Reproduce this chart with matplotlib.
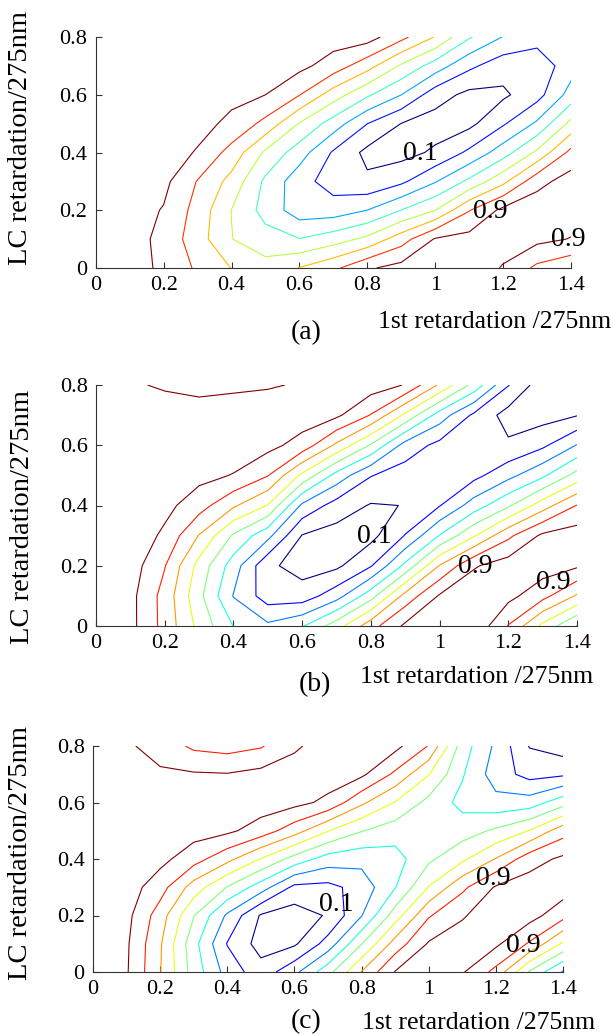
import numpy as np
import matplotlib
matplotlib.use('Agg')
import matplotlib.pyplot as plt

plt.rcParams['font.family'] = ['Liberation Serif', 'DejaVu Serif']

# grid the transmission maps were sampled on
x_grid = [0, 0.1, 0.2, 0.3, 0.4, 0.5, 0.6, 0.7, 0.8, 0.9, 1.0, 1.1, 1.2, 1.3, 1.4]
y_grid = [0, 0.1, 0.2, 0.3, 0.4, 0.5, 0.6, 0.7, 0.8]

# (a) rows = y_grid, cols = x_grid
za = [
    [0.99, 0.95, 0.877, 0.768, 0.668, 0.60, 0.675, 0.76, 0.885, 0.94, 0.97, 0.98, 0.89, 0.76, 0.70],
    [0.99, 0.95, 0.867, 0.722, 0.56, 0.49, 0.447, 0.505, 0.584, 0.734, 0.91, 0.94, 0.96, 0.93, 0.895],
    [0.99, 0.95, 0.893, 0.743, 0.555, 0.40, 0.27, 0.27, 0.33, 0.445, 0.555, 0.78, 0.93, 0.97, 0.96],
    [0.99, 0.97, 0.93, 0.78, 0.633, 0.42, 0.26, 0.16, 0.12, 0.19, 0.32, 0.468, 0.64, 0.862, 0.95],
    [1.0, 0.99, 0.96, 0.89, 0.744, 0.537, 0.383, 0.20, 0.07, 0.06, 0.118, 0.237, 0.39, 0.58, 0.82],
    [1.0, 1.0, 0.98, 0.94, 0.873, 0.753, 0.55, 0.39, 0.215, 0.098, 0.05, 0.07, 0.20, 0.348, 0.59],
    [1.0, 1.0, 0.99, 0.97, 0.93, 0.90, 0.79, 0.614, 0.462, 0.33, 0.15, 0.07, 0.08, 0.17, 0.375],
    [1.0, 1.0, 1.0, 0.99, 0.97, 0.96, 0.93, 0.85, 0.716, 0.54, 0.39, 0.24, 0.146, 0.14, 0.28],
    [1.0, 1.0, 1.0, 1.0, 0.99, 0.99, 0.98, 0.95, 0.95, 0.82, 0.665, 0.455, 0.325, 0.26, 0.27],
]

# (b)
zb = [
    [0.97, 0.93, 0.766, 0.57, 0.398, 0.32, 0.39, 0.555, 0.76, 0.92, 0.97, 0.98, 0.795, 0.575, 0.395],
    [0.97, 0.93, 0.763, 0.527, 0.295, 0.15, 0.145, 0.257, 0.457, 0.735, 0.91, 0.97, 0.93, 0.834, 0.688],
    [0.98, 0.95, 0.805, 0.565, 0.35, 0.12, 0.06, 0.08, 0.192, 0.425, 0.705, 0.89, 0.95, 0.95, 0.915],
    [0.99, 0.97, 0.88, 0.695, 0.486, 0.33, 0.095, 0.06, 0.07, 0.205, 0.405, 0.59, 0.778, 0.92, 0.95],
    [1.0, 0.99, 0.93, 0.843, 0.715, 0.595, 0.28, 0.156, 0.092, 0.102, 0.195, 0.347, 0.485, 0.653, 0.805],
    [1.0, 0.99, 0.96, 0.93, 0.895, 0.805, 0.578, 0.364, 0.205, 0.15, 0.14, 0.17, 0.27, 0.38, 0.538],
    [0.99, 0.98, 0.97, 0.96, 0.96, 0.93, 0.862, 0.68, 0.49, 0.26, 0.17, 0.11, 0.115, 0.18, 0.305],
    [0.96, 0.95, 0.94, 0.93, 0.94, 0.96, 0.95, 0.92, 0.795, 0.58, 0.355, 0.18, 0.06, 0.06, 0.095],
    [0.92, 0.91, 0.89, 0.88, 0.885, 0.89, 0.91, 0.97, 0.95, 0.895, 0.684, 0.467, 0.205, 0.04, 0.04],
]

# (c)
zc = [
    [0.97, 0.91, 0.705, 0.457, 0.262, 0.14, 0.273, 0.464, 0.705, 0.905, 0.96, 0.91, 0.77, 0.49, 0.29],
    [0.97, 0.915, 0.712, 0.434, 0.195, 0.06, 0.085, 0.24, 0.495, 0.742, 0.91, 0.95, 0.92, 0.788, 0.583],
    [0.98, 0.93, 0.75, 0.505, 0.283, 0.09, 0.05, 0.11, 0.295, 0.55, 0.79, 0.89, 0.96, 0.94, 0.836],
    [0.99, 0.95, 0.843, 0.655, 0.495, 0.35, 0.175, 0.17, 0.24, 0.395, 0.605, 0.778, 0.91, 0.95, 0.95],
    [1.0, 0.97, 0.93, 0.842, 0.73, 0.595, 0.462, 0.355, 0.333, 0.36, 0.48, 0.58, 0.705, 0.857, 0.92],
    [1.0, 0.98, 0.96, 0.94, 0.92, 0.855, 0.743, 0.605, 0.505, 0.447, 0.455, 0.453, 0.517, 0.605, 0.757],
    [0.99, 0.97, 0.95, 0.96, 0.96, 0.95, 0.93, 0.877, 0.72, 0.595, 0.47, 0.37, 0.332, 0.346, 0.46],
    [0.96, 0.95, 0.915, 0.91, 0.905, 0.93, 0.96, 0.95, 0.92, 0.78, 0.605, 0.41, 0.25, 0.165, 0.184],
    [0.92, 0.915, 0.86, 0.78, 0.76, 0.79, 0.88, 0.96, 0.97, 0.93, 0.795, 0.45, 0.28, 0.095, 0.05],
]

levels_a = [0.1, 0.214, 0.329, 0.443, 0.557, 0.671, 0.786, 0.9]
levels_bc = [0.1, 0.2, 0.3, 0.4, 0.5, 0.6, 0.7, 0.8, 0.9]

# inline contour labels: value, x, y
lab_a = ([0.1, 0.9, 0.9], [0.955, 1.162, 1.392], [0.398, 0.196, 0.098])
lab_b = ([0.1, 0.9, 0.9], [0.809, 1.105, 1.332], [0.298, 0.199, 0.143])
lab_c = ([0.1, 0.9, 0.9], [0.724, 1.191, 1.281], [0.238, 0.332, 0.093])

xticks = [0, 0.2, 0.4, 0.6, 0.8, 1.0, 1.2, 1.4]
xticklabels = ['0', '0.2', '0.4', '0.6', '0.8', '1', '1.2', '1.4']
yticks = [0, 0.2, 0.4, 0.6, 0.8]
yticklabels = ['0', '0.2', '0.4', '0.6', '0.8']

W, H = 614, 1034
fig = plt.figure(figsize=(W / 100, H / 100), dpi=100)


def px_axes(left, right, top, bottom):
    return fig.add_axes([left / W, 1 - bottom / H, (right - left) / W, (bottom - top) / H])


def draw(ax, z, levels, labs, xl_pos, yl_pos, letter, letter_xy):
    X, Y = np.meshgrid(x_grid, y_grid)
    ax.contour(X, Y, np.array(z), levels=levels, cmap='jet', linewidths=0.8)
    for v, lx, ly in zip(*labs):
        ax.text(lx, ly, f'{v:g}', fontsize=20, ha='center', va='center', clip_on=False)
    ax.set_xlim(0, 1.4)
    ax.set_ylim(0, 0.8)
    ax.set_xticks(xticks)
    ax.set_xticklabels(xticklabels)
    ax.set_yticks(yticks)
    ax.set_yticklabels(yticklabels)
    ax.tick_params(direction='in', length=4, labelsize=16, pad=6, color='#333333')
    for s in ['top', 'right']:
        ax.spines[s].set_visible(False)
    for s in ['left', 'bottom']:
        ax.spines[s].set_color('#333333')
    ax.set_xlabel('1st retardation /275nm', fontsize=18.5, ha='right', va='center')
    ax.xaxis.set_label_coords(*xl_pos)
    ax.set_ylabel('LC retardation/275nm', fontsize=20.5, va='center', ha='center')
    ax.yaxis.set_label_coords(*yl_pos)
    fig.text(letter_xy[0] / W, 1 - letter_xy[1] / H, letter, fontsize=20,
             ha='center', va='center')


ax1 = px_axes(95.7, 571, 37, 268)
draw(ax1, za, levels_a, lab_a, (1.084, -0.234), (-0.159, 0.563), '(a)', (306, 333))

ax2 = px_axes(96, 577, 385, 626)
draw(ax2, zb, levels_bc, lab_b, (1.033, -0.212), (-0.152, 0.452), '(b)', (315, 685))

ax3 = px_axes(93, 563, 746, 972)
draw(ax3, zc, levels_bc, lab_c, (1.068, -0.226), (-0.155, 0.527), '(c)', (306, 1022))

fig.savefig('out.png', dpi=100)
